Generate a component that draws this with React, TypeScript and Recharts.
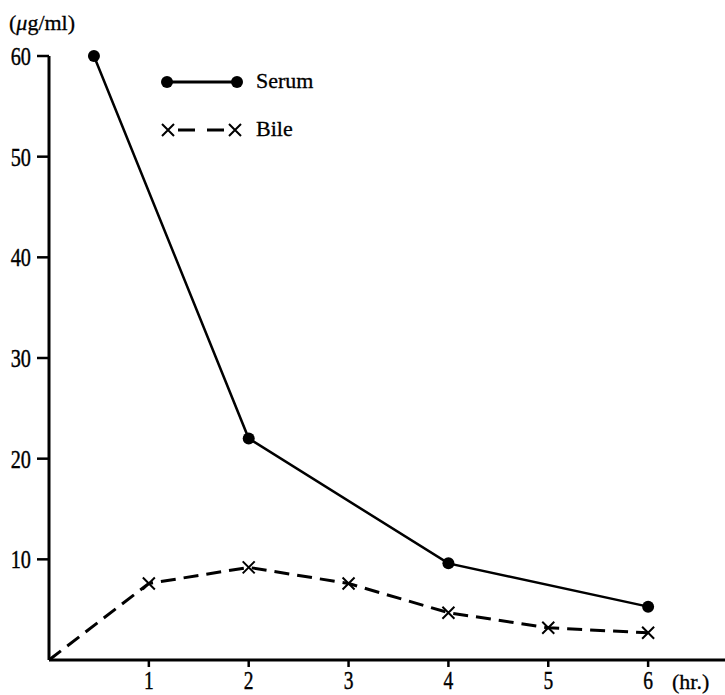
import { Label, Line, LineChart, XAxis, YAxis } from 'recharts';

const serumHours = [0.45, 2, 4, 6];
const serumValues = [60, 22, 9.6, 5.3];
const bileHours = [0, 1, 2, 3, 4, 5, 6];
const bileValues = [0, 7.6, 9.2, 7.6, 4.7, 3.2, 2.7];
const hourTicks = [1, 2, 3, 4, 5, 6];
const concTicks = [10, 20, 30, 40, 50, 60];
const seriesNames = ['Serum', 'Bile'];

const serumData = serumHours.map((hr, i) => ({ hr, value: serumValues[i] }));
const bileData = bileHours.map((hr, i) => ({ hr, value: bileValues[i] }));

const FONT = "'Liberation Serif', 'Times New Roman', serif";

function XTick({ x, y, payload }: any) {
  return (
    <g transform={`translate(${x},${y}) scale(0.78,1)`}>
      <text x={0} y={0} dy={22} textAnchor="middle" fontFamily={FONT} fontSize={25} fill="#000" stroke="#000" strokeWidth={0.4}>
        {payload.value}
      </text>
    </g>
  );
}

function YTick({ x, y, payload }: any) {
  return (
    <g transform={`translate(${x - 2},${y}) scale(0.78,1)`}>
      <text x={0} y={0} dy={9} textAnchor="end" fontFamily={FONT} fontSize={26} fill="#000" stroke="#000" strokeWidth={0.4}>
        {payload.value}
      </text>
    </g>
  );
}

function SerumDot({ cx, cy }: any) {
  return <circle cx={cx} cy={cy} r={6} fill="#000" />;
}

function BileDot({ cx, cy, payload }: any) {
  if (!payload || payload.value === 0) return <g />;
  const s = 6;
  return (
    <path d={`M${cx - s},${cy - s}L${cx + s},${cy + s}M${cx - s},${cy + s}L${cx + s},${cy - s}`} stroke="#000" strokeWidth={2} fill="none" />
  );
}

// legend drawn in chart coordinates (no layout space taken)
function LegendBox() {
  return (
    <g transform="translate(160,60)">
      <line x1={7} y1={22} x2={77} y2={22} stroke="#000" strokeWidth={3} />
      <circle cx={7} cy={22} r={6} fill="#000" />
      <circle cx={77} cy={22} r={6} fill="#000" />
      <text x={96} y={28} fontFamily={FONT} fontSize={22} fill="#000" stroke="#000" strokeWidth={0.3}>{seriesNames[0]}</text>
      <line x1={8} y1={70} x2={75} y2={70} stroke="#000" strokeWidth={3} strokeDasharray="0 10 17 12 17 20" />
      <path d="M2,64L14,76M2,76L14,64" stroke="#000" strokeWidth={2} />
      <path d="M69,64L81,76M69,76L81,64" stroke="#000" strokeWidth={2} />
      <text x={96} y={76} fontFamily={FONT} fontSize={22} fill="#000" stroke="#000" strokeWidth={0.3}>{seriesNames[1]}</text>
    </g>
  );
}

export default function App() {
  return (
    <div style={{ position: 'absolute', left: 0, top: 0, width: 725, height: 695, background: '#fff' }}>
      <LineChart width={725} height={695} margin={{ top: 56, right: 0, bottom: 0, left: 0 }}>
        <XAxis
          dataKey="hr"
          type="number"
          domain={[0, 6.77]}
          ticks={hourTicks}
          allowDataOverflow
          height={35}
          axisLine={{ stroke: '#000', strokeWidth: 3 }}
          tickLine={{ stroke: '#000', strokeWidth: 2.5 }}
          tickSize={7}
          tickMargin={0}
          tick={<XTick />}
        >
          <Label
            content={() => (
              <text x={672} y={689} fontFamily={FONT} fontSize={22} fill="#000" stroke="#000" strokeWidth={0.3}>(hr.)</text>
            )}
          />
        </XAxis>
        <YAxis
          dataKey="value"
          type="number"
          domain={[0, 60]}
          ticks={concTicks}
          width={49}
          axisLine={{ stroke: '#000', strokeWidth: 3 }}
          tickLine={{ stroke: '#000', strokeWidth: 2.5 }}
          tickSize={12}
          tickMargin={4}
          tick={<YTick />}
        >
          <Label
            content={() => (
              <g>
                <text x={9} y={30} fontFamily={FONT} fontSize={22} fill="#000" stroke="#000" strokeWidth={0.3}>
                  (<tspan fontStyle="italic">μ</tspan>g/ml)
                </text>
                <LegendBox />
              </g>
            )}
          />
        </YAxis>
        <Line
          data={serumData}
          dataKey="value"
          name={seriesNames[0]}
          stroke="#000"
          strokeWidth={2.5}
          dot={<SerumDot />}
          isAnimationActive={false}
        />
        <Line
          data={bileData}
          dataKey="value"
          name={seriesNames[1]}
          stroke="#000"
          strokeWidth={3}
          strokeDasharray="15 8"
          dot={<BileDot />}
          isAnimationActive={false}
        />
      </LineChart>
    </div>
  );
}
